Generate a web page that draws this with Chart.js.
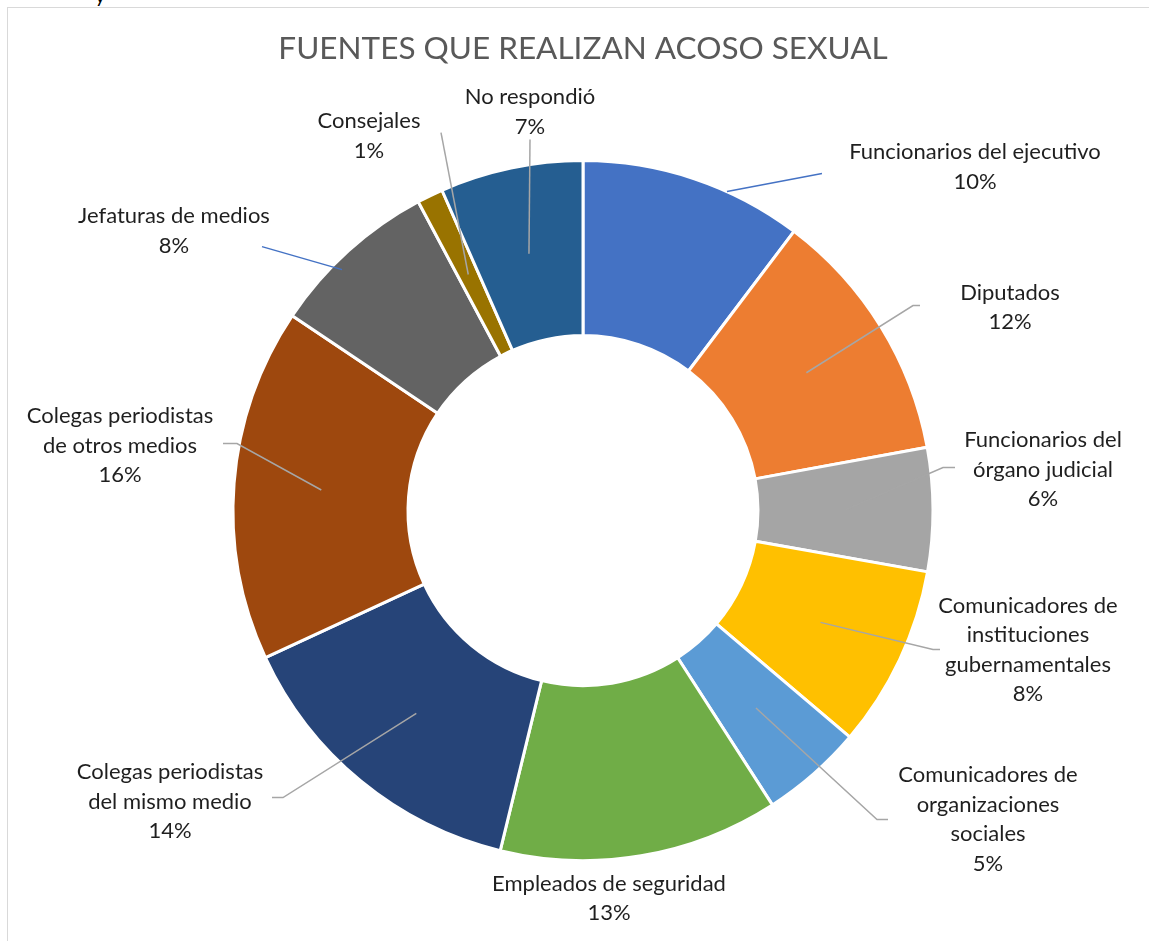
<!DOCTYPE html>
<html>
<head>
<meta charset="utf-8">
<script src="https://cdn.jsdelivr.net/npm/chart.js@4.4.1/dist/chart.umd.min.js"></script>
<style>
  html, body { margin: 0; padding: 0; background: #fff; overflow: hidden; }
  #wrap { position: relative; width: 1149px; height: 941px; }
  #frame { position: absolute; left: 7px; top: 7px; width: 1160px; height: 960px; border: 1px solid #d9d9d9; box-sizing: border-box; }
  #cut { position: absolute; left: 95px; top: -17px; font: 20px Lato, sans-serif; color: #000; }
  canvas { position: absolute; left: 0; top: 0; }
</style>
</head>
<body>
<div id="wrap">
  <div id="cut">y</div>
  <div id="frame"></div>
  <canvas id="chart" width="1149" height="941"></canvas>
</div>
<script>
// categories, clockwise from 12 o'clock
const categories = [
    ['Funcionarios del ejecutivo'],
    ['Diputados'],
    ['Funcionarios del', 'órgano judicial'],
    ['Comunicadores de', 'instituciones', 'gubernamentales'],
    ['Comunicadores de', 'organizaciones', 'sociales'],
    ['Empleados de seguridad'],
    ['Colegas periodistas', 'del mismo medio'],
    ['Colegas periodistas', 'de otros medios'],
    ['Jefaturas de medios'],
    ['Consejales'],
    ['No respondió']
];

// share of answers (percent)
const values = [10.3, 11.8, 5.7, 8.4, 4.7, 12.9, 14.3, 16.3, 7.8, 1.2, 6.6];

const colors = ['#4472C4', '#ED7D31', '#A5A5A5', '#FFC000', '#5B9BD5', '#70AD47',
                '#264478', '#9E480E', '#636363', '#997300', '#255E91'];

// label placement, offsets from the doughnut centre (text block centre + leader end points)
const labelLayout = [
    { text: [392, -343.5], leader: [[239, -337]], from: [144, -319], color: '#4472C4' },
    { text: [427, -203], leader: [[330, -205], [337, -205]] },
    { text: [460, -41], leader: [[360, -43], [372, -43]] },
    { text: [445, 139.5], leader: [[350, 139], [357, 139]] },
    { text: [405, 309], leader: [[294, 309], [305, 309]] },
    { text: [26, 388], leader: null },
    { text: [-413, 291], leader: [[-300, 287], [-311, 287]] },
    { text: [-463, -65], leader: [[-346, -67], [-360, -67]] },
    { text: [-409, -279.5], leader: [[-321, -264]], from: [-241, -241], color: '#4472C4' },
    { text: [-214, -374.5], leader: [[-142, -378]] },
    { text: [-53, -398.5], leader: [[-53, -371]] }
];

const total = values.reduce((a, b) => a + b, 0);

const labelPlugin = {
    id: 'pieLabels',
    afterDatasetsDraw(chart) {
        const ctx = chart.ctx;
        const arcs = chart.getDatasetMeta(0).data;
        ctx.save();
        arcs.forEach((arc, i) => {
            const { x, y, startAngle, endAngle, innerRadius, outerRadius } = arc.getProps(['x', 'y', 'startAngle', 'endAngle', 'innerRadius', 'outerRadius'], true);
            const lay = labelLayout[i];
            if (lay.leader) {
                const mid = (startAngle + endAngle) / 2;
                const r = (innerRadius + outerRadius) / 2;
                let sx = x + Math.cos(mid) * r;
                let sy = y + Math.sin(mid) * r;
                if (lay.from) { sx = x + lay.from[0]; sy = y + lay.from[1]; }
                ctx.beginPath();
                ctx.moveTo(sx, sy);
                lay.leader.forEach(p => ctx.lineTo(x + p[0], y + p[1]));
                ctx.strokeStyle = lay.color || '#A6A6A6';
                ctx.lineWidth = 1.5;
                ctx.stroke();
            }
            const lines = categories[i].concat([Math.round(values[i] / total * 100) + '%']);
            const lh = 29.5;
            ctx.fillStyle = '#1f1f1f';
            ctx.font = '22px Lato, sans-serif';
            ctx.textAlign = 'center';
            ctx.textBaseline = 'middle';
            const top = y + lay.text[1] - (lines.length - 1) * lh / 2;
            lines.forEach((t, k) => ctx.fillText(t, x + lay.text[0], top + k * lh));
        });
        ctx.restore();
    }
};

new Chart(document.getElementById('chart'), {
    type: 'doughnut',
    data: {
        labels: categories,
        datasets: [{
            data: values,
            backgroundColor: colors,
            borderColor: '#ffffff',
            borderWidth: 3,
            hoverOffset: 0
        }]
    },
    options: {
        responsive: false,
        animation: false,
        radius: 350,
        cutout: '50%',
        layout: { padding: { left: 17, right: 0, top: 0, bottom: 0 } },
        plugins: {
            legend: { display: false },
            tooltip: { enabled: false },
            title: {
                display: true,
                text: 'FUENTES QUE REALIZAN ACOSO SEXUAL',
                color: '#595959',
                font: { family: 'Lato, sans-serif', size: 31.5, weight: 'normal' },
                padding: { top: 30, bottom: 12.4 }
            }
        }
    },
    plugins: [labelPlugin]
});
</script>
</body>
</html>
